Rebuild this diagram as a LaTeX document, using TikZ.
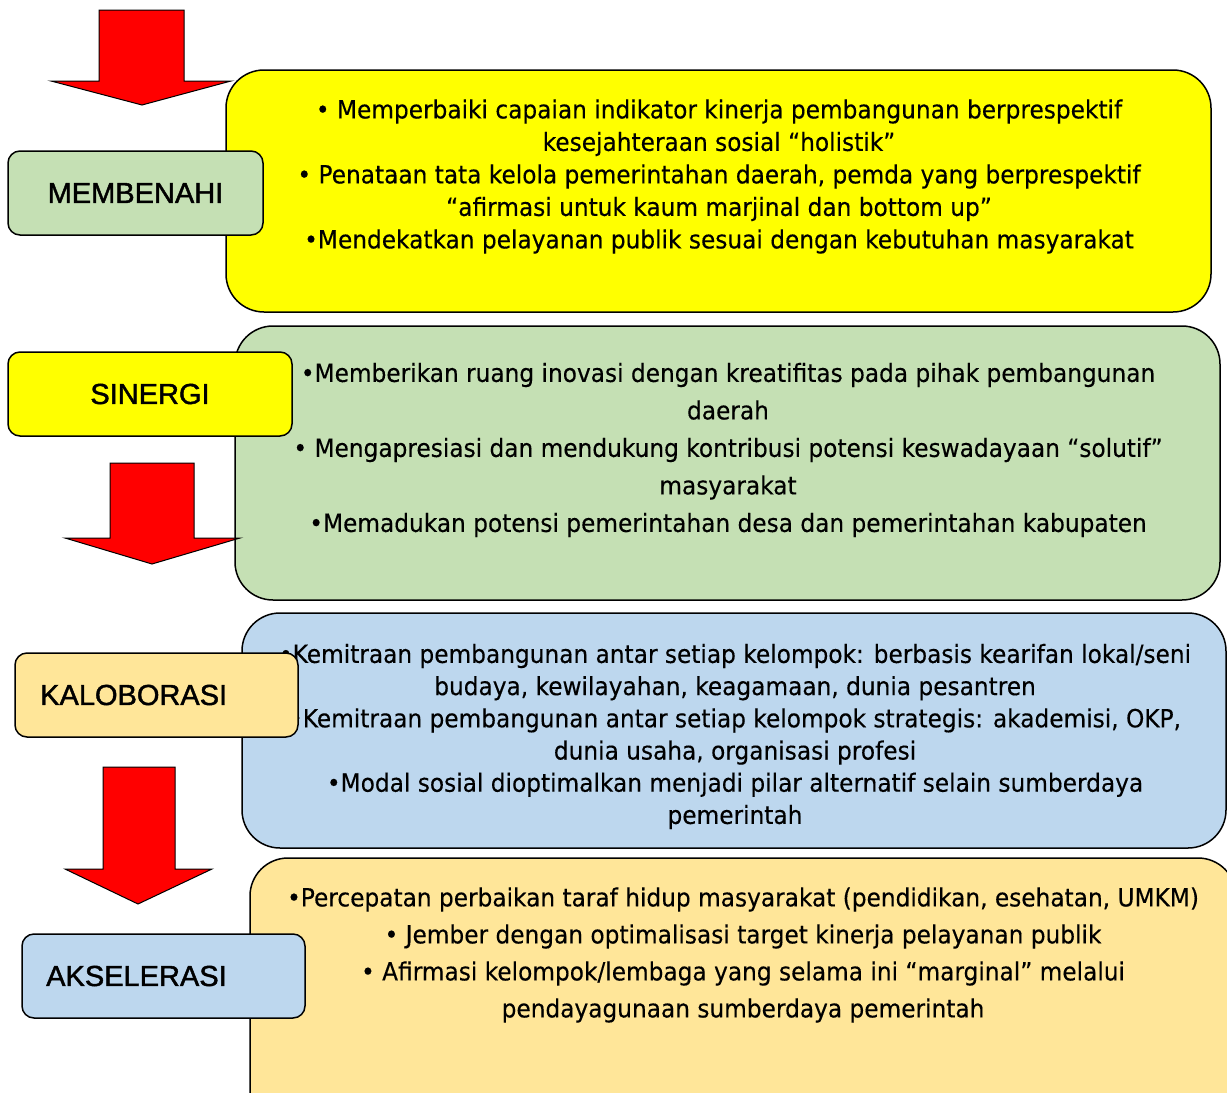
\documentclass[tikz,border=0pt]{standalone}
\usepackage{fontspec}
\setmainfont{DejaVu Sans}[FakeStretch=0.93,FakeBold=0.3]
\newfontfamily\labelfont{Liberation Sans}
\definecolor{cyellow}{HTML}{FFFF00}
\definecolor{cgreen}{HTML}{C5E0B4}
\definecolor{cblue}{HTML}{BDD7EE}
\definecolor{corange}{HTML}{FFE699}
\definecolor{cred}{HTML}{FF0000}
\begin{document}
\begin{tikzpicture}[x=1pt,y=-1pt,
  bigbox/.style={draw=black,line width=1.5pt,rounded corners=38pt},
  labelbox/.style={draw=black,line width=1.5pt,rounded corners=12pt},
  labeltext/.style={font=\labelfont\fontsize{29}{34}\selectfont\addfontfeature{FakeBold=1.5},inner sep=0pt},
  bodytext/.style={font=\fontsize{25}{32.5}\selectfont,align=center,inner sep=0pt},
  redarrow/.style={draw=black,line width=1pt,fill=cred,line join=miter}]
\useasboundingbox (0,0) rectangle (1227,1093);

% content boxes
\draw[bigbox,fill=cyellow] (226,70) rectangle (1211,312);
\draw[bigbox,fill=cgreen] (235,326) rectangle (1220,600);
\draw[bigbox,fill=cblue] (242,613) rectangle (1226,848);
\begin{scope}
\clip (0,0) rectangle (1227,1093);
\draw[bigbox,fill=corange] (250,858) rectangle (1236,1140);
\end{scope}

% body texts
\node[bodytext] (t1) at (719,176.5) {• Memperbaiki capaian indikator kinerja pembangunan berprespektif\\
kesejahteraan sosial “holistik”\\
• Penataan tata kelola pemerintahan daerah, pemda yang berprespektif\\
“afirmasi untuk kaum marjinal dan bottom up”\\
•Mendekatkan pelayanan publik sesuai dengan kebutuhan masyarakat};

\node[bodytext,font=\fontsize{25}{37.5}\selectfont] (t2) at (728,450) {•Memberikan ruang inovasi dengan kreatifitas pada pihak pembangunan\\
daerah\\
• Mengapresiasi dan mendukung kontribusi potensi keswadayaan “solutif”\\
masyarakat\\
•Memadukan potensi pemerintahan desa dan pemerintahan kabupaten};

\node[bodytext,font=\fontsize{25}{32.2}\selectfont] (t3) at (735,736.5) {•Kemitraan pembangunan antar setiap kelompok: berbasis kearifan lokal/seni\\
budaya, kewilayahan, keagamaan, dunia pesantren\\
•Kemitraan pembangunan antar setiap kelompok strategis: akademisi, OKP,\\
dunia usaha, organisasi profesi\\
•Modal sosial dioptimalkan menjadi pilar alternatif selain sumberdaya\\
pemerintah};

\node[bodytext,font=\fontsize{25}{37}\selectfont] (t4) at (743,955) {•Percepatan perbaikan taraf hidup masyarakat (pendidikan, esehatan, UMKM)\\
• Jember dengan optimalisasi target kinerja pelayanan publik\\
• Afirmasi kelompok/lembaga yang selama ini “marginal” melalui\\
pendayagunaan sumberdaya pemerintah};

% label boxes
\draw[labelbox,fill=cgreen] (8,151) rectangle (263,235);
\node[labeltext] (l1) at (135.5,193) {MEMBENAHI};
\draw[labelbox,fill=cyellow] (8,352) rectangle (292,436);
\node[labeltext] (l2) at (150,394) {SINERGI};
\draw[labelbox,fill=corange] (15,653) rectangle (298,737);
\node[labeltext,anchor=west] (l3) at (40,695) {KALOBORASI};
\draw[labelbox,fill=cblue] (22,934) rectangle (305,1018);
\node[labeltext,anchor=west] (l4) at (46,976) {AKSELERASI};

% red arrows
\draw[redarrow] (99,10) -- (184,10) -- (184,81) -- (231,81) -- (142,105) -- (51,81) -- (99,81) -- cycle;
\draw[redarrow] (110,463) -- (194,463) -- (194,538) -- (240,538) -- (152,564) -- (65,538) -- (110,538) -- cycle;
\draw[redarrow] (103,767) -- (175,767) -- (175,869) -- (212,869) -- (138,904) -- (65,869) -- (103,869) -- cycle;
\end{tikzpicture}
\end{document}
